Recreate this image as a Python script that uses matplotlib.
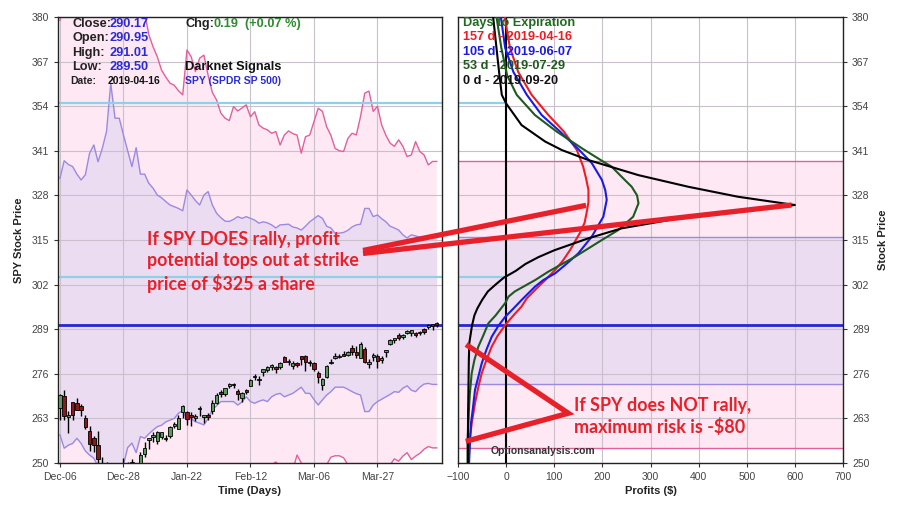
import matplotlib.pyplot as plt
import numpy as np

plt.rcParams['font.family'] = ['Liberation Sans', 'DejaVu Sans']

# ---- left panel: SPY daily candles, Dec-06 2018 .. Apr-16 2019 ----
date_labels = ['Dec-06', 'Dec-28', 'Jan-22', 'Feb-12', 'Mar-06', 'Mar-27']
date_pos = [0, 15, 30, 45, 60, 75]

opens = [265.9, 269.5, 263.4, 267.7, 267.5, 266.5, 263.0, 259.4, 257.2, 255.2,
         249.9, 246.7, 239.0, 236.0, 242.6, 249.6, 249.6, 246.0, 248.2, 247.6,
         252.7, 256.8, 257.6, 256.3, 257.7, 256.9, 257.8, 260.8, 260.0, 265.0,
         264.8, 264.0, 263.2, 265.6, 263.4, 263.9, 265.1, 267.5, 270.2, 270.1,
         272.4, 272.8, 270.9, 268.8, 271.2, 272.4, 275.0, 274.1, 276.4, 277.0,
         278.0, 278.1, 278.0, 280.9, 279.3, 278.4, 279.0, 281.1, 281.1, 279.5,
         279.0, 276.3, 272.6, 275.2, 279.1, 280.6, 280.8, 281.7, 281.6, 283.5,
         282.3, 280.6, 283.2, 278.9, 281.0, 281.3, 280.1, 282.4, 284.7, 285.9,
         287.3, 286.8, 287.9, 287.8, 287.8, 287.8, 289.1, 289.5, 290.2, 290.95]
highs = [270.0, 271.2, 265.2, 267.9, 269.0, 267.3, 264.0, 260.7, 258.0, 259.4,
         251.6, 250.2, 240.8, 246.2, 248.3, 251.4, 250.2, 251.2, 248.6, 253.1,
         256.0, 257.3, 258.9, 259.2, 259.0, 258.3, 260.9, 262.0, 263.9, 267.0,
         265.1, 264.8, 264.2, 266.7, 263.8, 264.6, 268.5, 270.5, 271.2, 272.0,
         273.4, 273.3, 271.6, 270.7, 271.6, 274.5, 275.9, 275.5, 277.4, 278.4,
         278.9, 278.2, 279.4, 281.1, 280.4, 279.7, 279.4, 281.3, 281.4, 280.0,
         279.4, 276.7, 274.8, 278.5, 280.3, 282.1, 281.7, 282.6, 282.7, 284.4,
         284.2, 285.2, 283.8, 280.2, 282.2, 281.8, 281.2, 282.8, 286.2, 286.0,
         288.0, 287.5, 288.7, 288.9, 288.3, 288.5, 289.3, 290.5, 290.4, 291.01]
lows = [262.4, 262.6, 258.6, 262.5, 265.4, 263.7, 259.9, 253.5, 253.3, 249.4,
        244.7, 240.0, 234.3, 233.8, 239.0, 246.5, 247.5, 246.0, 243.7, 247.2,
        251.7, 254.0, 256.2, 255.5, 257.0, 256.4, 257.2, 260.3, 260.0, 263.0,
        261.1, 260.7, 262.1, 263.7, 261.8, 262.5, 264.3, 267.3, 269.2, 269.4,
        271.9, 271.9, 268.3, 267.8, 270.0, 272.3, 274.3, 272.7, 275.5, 276.5,
        277.2, 276.1, 277.5, 279.3, 278.6, 277.3, 278.1, 278.6, 276.8, 278.4,
        276.8, 273.3, 271.3, 274.7, 278.9, 280.4, 280.5, 281.1, 281.1, 281.6,
        280.5, 280.6, 279.2, 277.6, 279.6, 277.8, 279.1, 281.0, 284.4, 285.0,
        285.8, 286.0, 287.5, 287.1, 286.6, 287.2, 287.5, 289.2, 288.8, 289.50]
closes = [269.8, 263.6, 264.1, 264.1, 265.5, 265.4, 260.5, 255.4, 255.1, 251.3,
          247.2, 240.7, 234.3, 246.2, 248.1, 247.8, 249.9, 250.2, 244.2, 252.4,
          254.4, 256.8, 258.0, 258.9, 259.0, 257.4, 260.4, 261.0, 263.0, 266.5,
          262.9, 263.4, 263.6, 265.8, 263.8, 263.4, 267.6, 269.9, 270.1, 272.0,
          273.1, 272.7, 270.1, 270.5, 270.6, 274.1, 275.0, 274.4, 277.4, 277.9,
          278.4, 277.4, 279.1, 279.5, 279.3, 279.2, 278.7, 280.4, 279.4, 279.0,
          277.3, 275.0, 274.5, 278.4, 279.5, 281.3, 281.2, 281.3, 282.3, 282.4,
          281.6, 284.7, 279.3, 279.0, 281.1, 279.7, 280.7, 282.5, 285.8, 286.0,
          286.4, 287.2, 288.6, 288.8, 287.3, 288.3, 288.2, 290.2, 290.0, 290.17]

# projected price bands drawn around the candles
up_pink = [379.0, 384, 388, 392, 390, 389, 394, 400, 404, 398,
           402, 408, 425, 412, 411, 405, 398, 404, 395, 392,
           381.5, 374.8, 371.3, 368.4, 364.5, 362.5, 360.7, 360.1, 358.5, 357.3,
           370.4, 368.4, 364.1, 368.0, 368.9, 363.0, 358.0, 355.8, 352.0, 350.5,
           349.8, 353.9, 352.6, 353.5, 354.4, 350.9, 352.4, 348.5, 347.6, 347.1,
           346.1, 346.6, 342.7, 345.6, 346.8, 346.0, 345.6, 340.3, 345.1, 345.6,
           349.5, 353.4, 352.5, 348.0, 345.5, 341.7, 341.0, 340.8, 344.6, 346.1,
           345.6, 351.0, 357.8, 358.4, 352.5, 354.0, 348.5, 345.5, 343.2, 342.3,
           344.2, 342.3, 339.3, 339.8, 343.7, 340.8, 339.8, 336.9, 337.9, 337.9]
up_purple = [333.0, 338.1, 337.0, 336.4, 334.2, 332.5, 334.0, 340.3, 342.7, 337.8,
             341.7, 346.6, 360.7, 350.5, 350.5, 345.6, 341.0, 336.4, 341.9, 334.2,
             334.2, 331.5, 330.1, 328.1, 327.3, 326.2, 325.2, 324.7, 324.2, 323.5,
             329.6, 328.1, 326.5, 325.2, 328.1, 329.1, 325.2, 322.8, 321.5, 320.5,
             320.4, 321.0, 321.8, 321.3, 321.8, 321.3, 320.8, 319.9, 320.3, 320.0,
             319.4, 318.5, 319.4, 319.5, 319.6, 318.8, 318.5, 317.9, 319.0, 320.3,
             321.2, 322.1, 321.3, 319.0, 318.5, 316.9, 317.0, 317.2, 317.8, 318.8,
             319.4, 319.6, 324.2, 324.2, 321.8, 322.3, 321.2, 320.3, 319.0, 318.5,
             317.9, 316.5, 315.6, 316.5, 316.2, 315.8, 315.4, 316.1, 315.8, 315.9]
lo_purple = [258.2, 254.3, 255.2, 255.7, 257.2, 255.7, 253.5, 252.3, 251.4, 249.0,
             246.5, 244.0, 240.0, 243.0, 246.0, 249.5, 254.5, 255.8, 253.0, 257.7,
             257.2, 258.5, 259.6, 260.6, 261.0, 262.0, 262.5, 263.0, 264.5, 265.3,
             262.5, 263.0, 262.0, 261.6, 261.1, 263.0, 265.5, 266.7, 267.9, 267.9,
             267.9, 267.9, 266.9, 267.8, 269.3, 267.9, 267.4, 268.0, 268.4, 267.9,
             269.3, 270.0, 270.3, 269.3, 269.8, 270.3, 271.2, 272.1, 270.3, 270.3,
             268.5, 266.9, 268.4, 269.8, 270.8, 272.1, 272.1, 272.1, 271.5, 270.8,
             270.2, 269.8, 265.0, 265.0, 266.9, 267.9, 268.6, 269.3, 270.0, 270.8,
             270.6, 271.8, 272.5, 271.2, 270.8, 272.1, 273.0, 273.2, 272.9, 272.9]
lo_pink = [238, 234, 236, 237, 238, 236, 234, 232, 231, 229,
           227, 225, 220, 224, 227, 230, 235, 236, 234, 238,
           238, 239, 240, 241, 242, 243, 243, 244, 245, 246,
           243, 244, 243, 242, 242, 244, 246, 247, 248, 248,
           248, 248, 247, 248, 249, 248, 247.5, 248, 248.5, 248,
           249.5, 250.3, 249.0, 247.5, 247.0, 248.0, 252.3, 250.0, 248.0, 247.5,
           246.5, 245.5, 247.0, 249.5, 251.7, 252.1, 252.1, 251.5, 249.5, 248.0,
           247.5, 247.0, 243.0, 243.0, 245.0, 246.0, 247.0, 248.0, 249.5, 251.2,
           250.5, 252.0, 253.0, 251.0, 252.0, 252.8, 254.0, 254.8, 254.4, 254.4]

hline_blue = [354.9, 304.3]
last_close = 290.17

# ---- right panel: profit curves (price, profit) per days to expiration ----
red_price = [250, 253, 257.7, 262, 267.4, 272, 276.1, 280, 283.9, 287, 290.2, 293,
             295.6, 298, 301.4, 303.3, 306.3, 309, 312.1, 317, 320, 322.8, 326,
             329.6, 333, 336.4, 341.2, 346.6, 351.4, 357.3, 364, 371, 380]
red_profit = [-78.5, -77, -75, -71, -64.7, -58, -50.8, -41, -30, -18, -2, 15,
              32, 43, 67, 81, 102, 118, 133, 153, 163, 167, 171,
              171, 166, 160, 147, 120, 88, 53, 25, 8, -3]
blue_price = [250, 255, 261.6, 266, 271.3, 275, 279, 283, 286.8, 290, 292.6, 295,
              297.5, 301.4, 303.3, 305.3, 308, 311.1, 316, 321.8, 326.7, 329.5,
              332.5, 337.4, 341.5, 346.6, 351.4, 357.3, 364, 371, 380]
blue_profit = [-77, -75.5, -73, -69, -64.7, -58, -50.8, -41, -30, -16, -2, 15,
               32, 60, 77, 102, 125, 150, 178, 202, 209, 206,
               199, 178, 150, 112, 74, 43, 15, -2, -11]
green_price = [250, 256.6, 260, 266.4, 270, 276.1, 280, 283.9, 287, 290.7, 293,
               296.6, 298.5, 300, 303.3, 305.8, 310.1, 315, 317.9, 321.8, 325.7,
               328, 330.5, 333, 336.4, 338, 341.5, 346.6, 351.4, 357.3, 363, 371, 380]
green_profit = [-80, -80, -79, -77, -75.5, -71.6, -66, -57.8, -48, -37, -22,
                -2, 5, 18, 60, 88, 143, 199, 233, 264, 275,
                272, 261, 243, 219, 200, 160, 105, 60, 22, 2, -10, -20]
black_price = [250, 255, 260, 265, 270, 275, 280, 285, 290, 293, 295, 297.5, 300,
               302, 304, 306, 308, 310, 312, 315.5, 318.4, 321.8, 325.2, 327.6,
               330.5, 333.9, 338.3, 341.2, 343.7, 348.5, 354.8, 357.3, 363.1,
               370.9, 380]
black_profit = [-79.5, -79.5, -79.3, -79, -78.5, -78, -77.5, -76.5, -71, -66, -60,
                -50, -38, -22, -5, 20, 40, 67, 100, 171, 240, 379, 600, 482,
                379, 275, 171, 116, 81, 32, 0, -9, -14, -20, -27]

legend_rows = [('Days to Expiration', '#1e6a1e'),
               ('157 d - 2019-04-16', '#ee1c24'),
               ('105 d - 2019-06-07', '#1a1ae6'),
               ('53 d - 2019-07-29', '#1e5a1e'),
               ('0 d - 2019-09-20', '#111111')]

PINK = '#fde8f3'
LAV = '#ecdcf2'
PINK_LINE = '#e2609c'
PURPLE_LINE = '#9b8ae0'
LBLUE = '#8fd0e6'
BLUE = '#2626d4'
RED = '#e8202a'
GRID = '#c9c0cc'
TICK_C = '#444444'

fig = plt.figure(figsize=(9, 5.09), dpi=100)
ax1 = fig.add_axes([0.0644, 0.0904, 0.4267, 0.8762])
ax2 = fig.add_axes([0.5089, 0.0904, 0.4278, 0.8762])

# ---------------- left panel ----------------
x = np.arange(len(closes))
ax1.fill_between(x, lo_pink, up_pink, color=PINK, lw=0, zorder=0.6)
ax1.fill_between(x, lo_purple, up_purple, color=LAV, lw=0, zorder=0.7)
ax1.plot(x, up_pink, color=PINK_LINE, lw=1)
ax1.plot(x, lo_pink, color=PINK_LINE, lw=1)
ax1.plot(x, up_purple, color=PURPLE_LINE, lw=1)
ax1.plot(x, lo_purple, color=PURPLE_LINE, lw=1)
ax1.axhline(hline_blue[0], color=LBLUE, lw=1.6)
ax1.axhline(hline_blue[1], color=LBLUE, lw=1.6)
ax1.axhline(last_close, color=BLUE, lw=2)

o = np.array(opens)
c = np.array(closes)
up = c >= o
ax1.vlines(x, lows, highs, color='black', lw=1.0, zorder=3)
body_h = np.maximum(np.abs(c - o), 0.45)
ax1.bar(x[up], body_h[up], bottom=np.minimum(o, c)[up], width=0.8,
        color='#5a9a5a', edgecolor='black', lw=0.6, zorder=4)
ax1.bar(x[~up], body_h[~up], bottom=np.minimum(o, c)[~up], width=0.8,
        color='#8a1a1a', edgecolor='black', lw=0.6, zorder=4)

ax1.set_xlim(-0.47, 90.24)
ax1.set_ylim(250, 380)
ax1.set_yticks(np.arange(250, 381, 13))
ax1.set_xticks(date_pos)
ax1.set_xticklabels(date_labels)
ax1.grid(True, color=GRID, lw=0.8)
ax1.set_axisbelow('line')
ax1.set_xlabel('Time (Days)', fontsize=8, fontweight='bold', color='#222222', labelpad=3)
ax1.set_ylabel('SPY Stock Price', fontsize=8, fontweight='bold', color='#222222', labelpad=5)

# header block
hdr = dict(transform=ax1.transAxes, fontsize=9.2, fontweight='bold', va='center')
rows = [('Close:', '290.17'), ('Open:', '290.95'), ('High:', '291.01'), ('Low:', '289.50')]
for k, (lab, val) in enumerate(rows):
    yy = 0.984 - k * 0.032
    ax1.text(0.037, yy, lab, color='#222222', **hdr)
    ax1.text(0.134, yy, val, color='#2a2ad6', **hdr)
ax1.text(0.031, 0.857, 'Date:', color='#222222', transform=ax1.transAxes,
         fontsize=7.5, fontweight='bold', va='center')
ax1.text(0.130, 0.857, '2019-04-16', color='#111111', transform=ax1.transAxes,
         fontsize=7.5, fontweight='bold', va='center')
ax1.text(0.331, 0.984, 'Chg:', color='#222222', **hdr)
ax1.text(0.405, 0.984, '0.19', color='#2e8b2e', **hdr)
ax1.text(0.487, 0.984, '(+0.07 %)', color='#2e8b2e', **hdr)
ax1.text(0.331, 0.888, 'Darknet Signals', color='#111111', **hdr)
ax1.text(0.331, 0.857, 'SPY (SPDR SP 500)', color='#2a2ad6', transform=ax1.transAxes,
         fontsize=7.5, fontweight='bold', va='center')

ax1.text(0.232, 0.4507, 'If SPY DOES rally, profit\npotential tops out at strike\nprice of $325 a share',
         transform=ax1.transAxes, color=RED, fontsize=12.9, fontweight='bold',
         family=['Lato', 'DejaVu Sans'], va='center', ha='left', linespacing=1.27, zorder=10)

# ---------------- right panel ----------------
ax2.axhspan(lo_pink[-1], up_pink[-1], color=PINK, lw=0, zorder=0.6)
ax2.axhspan(lo_purple[-1], up_purple[-1], color=LAV, lw=0, zorder=0.7)
for v, col in [(up_pink[-1], PINK_LINE), (lo_pink[-1], PINK_LINE),
               (up_purple[-1], PURPLE_LINE), (lo_purple[-1], PURPLE_LINE)]:
    ax2.axhline(v, color=col, lw=1)
ax2.hlines(hline_blue, -100, 0, color=LBLUE, lw=1.6)
ax2.axhline(last_close, color=BLUE, lw=2)
ax2.axvline(0, color='black', lw=1.5)

ax2.plot(red_profit, red_price, color='#ee1c24', lw=1.5, zorder=5)
ax2.plot(blue_profit, blue_price, color='#1a1ae6', lw=1.5, zorder=5)
ax2.plot(green_profit, green_price, color='#1e5a1e', lw=1.5, zorder=5)
ax2.plot(black_profit, black_price, color='black', lw=1.5, zorder=6)

ax2.set_xlim(-100, 700)
ax2.set_ylim(250, 380)
ax2.set_yticks(np.arange(250, 381, 13))
ax2.set_xticks(np.arange(-100, 701, 100))
ax2.yaxis.tick_right()
ax2.yaxis.set_label_position('right')
ax2.grid(True, color=GRID, lw=0.8)
ax2.set_axisbelow('line')
ax2.set_xlabel('Profits ($)', fontsize=8, fontweight='bold', color='#222222', labelpad=3)
ax2.set_ylabel('Stock Price', fontsize=8, fontweight='bold', color='#222222', labelpad=6)

for k, (txt, col) in enumerate(legend_rows):
    ax2.text(0.013, 0.987 - k * 0.0325, txt, transform=ax2.transAxes, color=col,
             fontsize=9.2, fontweight='bold', va='center', zorder=7)

ax2.text(-33, 253.5, 'Optionsanalysis.com', color='#333333', fontsize=7.5,
         fontweight='bold', va='center', zorder=7)
ax2.text(0.301, 0.104, 'If SPY does NOT rally,\nmaximum risk is -$80',
         transform=ax2.transAxes, color=RED, fontsize=12.9, fontweight='bold',
         family=['Lato', 'DejaVu Sans'], va='center', ha='left', linespacing=1.27, zorder=10)

# red pointer lines
arrow_tail = [(-297.4, 311.95), (-297.4, 311.07)]
arrow_tip = [(166, 325.1), (593, 325.2)]
for (x0, y0), (x1, y1) in zip(arrow_tail, arrow_tip):
    ax2.plot([x0, x1], [y0, y1], color=RED, lw=3.8, solid_capstyle='butt',
             clip_on=False, zorder=9)
v_px = [-78.6, 129.2, -78.6]
v_py = [284.1, 264.5, 256.5]
ax2.plot(v_px, v_py, color=RED, lw=3.8, solid_joinstyle='miter', zorder=9)

for ax in (ax1, ax2):
    ax.tick_params(labelsize=7.5, labelcolor=TICK_C, length=3, width=0.8, color='#333333')
    for s in ax.spines.values():
        s.set_color('#222222')
        s.set_linewidth(1)

fig.savefig('out.png', dpi=100)
